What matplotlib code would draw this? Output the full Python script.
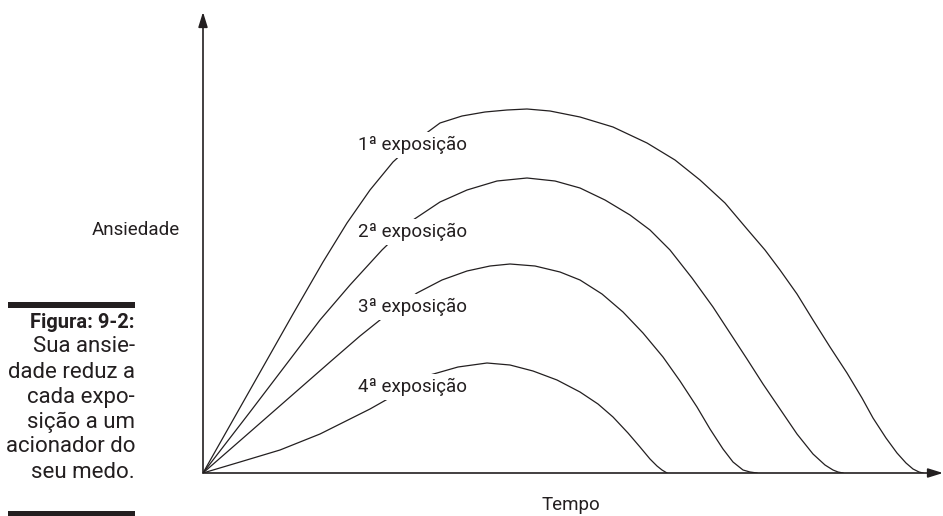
import matplotlib
matplotlib.use("Agg")
import matplotlib.pyplot as plt
from matplotlib.patches import Rectangle

plt.rcParams["font.family"] = ["Roboto", "DejaVu Sans"]

# curves: tempo (0..74) and ansiedade (0..46.1)
t1 = [0, 3.0, 6.0, 9.0, 12.0, 14.4, 16.7, 19.0, 21.4, 23.7, 25.9, 28.2, 30.4, 32.4, 34.7, 37.7, 41.0, 44.4,
      47.2, 49.7, 52.2, 54.4, 56.2, 57.7, 59.4, 61.0, 62.7, 64.4, 65.9, 67.0, 68.3, 69.4, 70.3, 71.0, 71.6, 72.0]
a1 = [0, 5.3, 10.6, 15.9, 21.1, 25.0, 28.3, 31.1, 33.3, 35.0, 35.7, 36.1, 36.3, 36.4, 36.2, 35.6, 34.6, 33.0,
      31.3, 29.3, 27.0, 24.4, 22.3, 20.3, 17.9, 15.3, 12.6, 10.0, 7.5, 5.5, 3.5, 2.0, 1.0, 0.4, 0.1, 0]

t2 = [0, 4.7, 8.2, 11.7, 14.7, 17.9, 21.0, 23.7, 26.4, 29.4, 32.4, 35.2, 37.7, 40.2, 42.7, 44.7, 46.7, 48.9,
      51.0, 52.7, 54.4, 56.0, 57.7, 59.4, 61.0, 62.2, 63.0, 63.5, 64.0]
a2 = [0, 6.1, 10.7, 15.3, 18.8, 22.3, 25.3, 27.1, 28.3, 29.2, 29.5, 29.2, 28.5, 27.3, 25.8, 24.3, 22.3, 19.5,
      16.6, 14.0, 11.4, 8.9, 6.4, 3.9, 1.9, 0.8, 0.3, 0.1, 0]

t3 = [0, 4.7, 8.7, 12.7, 15.7, 18.7, 21.4, 23.9, 26.4, 28.7, 30.7, 33.2, 35.7, 37.7, 39.9, 42.0, 44.0, 46.0,
      47.7, 49.4, 50.7, 52.0, 53.0, 54.0, 54.7, 55.4]
a3 = [0, 4.1, 7.6, 11.1, 13.7, 16.1, 18.0, 19.3, 20.2, 20.7, 20.9, 20.7, 20.1, 19.3, 17.9, 16.1, 14.0, 11.6,
      9.2, 6.6, 4.4, 2.4, 1.1, 0.3, 0.1, 0]

t4 = [0, 3.7, 7.7, 11.7, 14.7, 16.7, 19.7, 22.7, 25.5, 28.4, 30.7, 33.0, 35.4, 37.7, 39.5, 41.0, 42.5, 43.7,
      44.7, 45.4, 45.9, 46.4]
a4 = [0, 1.1, 2.3, 3.9, 5.4, 6.4, 8.1, 9.8, 10.6, 11.0, 10.8, 10.2, 9.3, 8.1, 6.9, 5.6, 4.0, 2.6,
      1.4, 0.7, 0.3, 0]

labels = ["1ª exposição", "2ª exposição", "3ª exposição", "4ª exposição"]
label_y = [32.8, 24.1, 16.6, 8.6]

caption = ["Sua ansie-", "dade reduz a", "cada expo-", "sição a um", "acionador do", "seu medo."]

W, H = 943, 516
INK = "#231f20"
fig = plt.figure(figsize=(W / 100, H / 100), dpi=100)
ax = fig.add_axes([203 / W, 43 / H, 740 / W, 461 / H])
ax.set_xlim(0, 74)
ax.set_ylim(0, 46.1)
ax.axis("off")

for t, a in [(t1, a1), (t2, a2), (t3, a3), (t4, a4)]:
    ax.plot(t, a, color=INK, lw=0.9, solid_joinstyle="round", zorder=2)

for lab, y in zip(labels, label_y):
    ax.text(15.5, y, lab, fontsize=13.5, color=INK, ha="left", va="center", zorder=3,
            bbox=dict(facecolor="white", edgecolor="none", pad=2.5))

# axes with arrow heads
for tip in [(0, 1), (1, 0)]:
    ax.annotate("", xy=tip, xytext=(0, 0), xycoords="axes fraction",
                arrowprops=dict(arrowstyle="-|>,head_length=0.9,head_width=0.28", color=INK, lw=1.2,
                                shrinkA=0, shrinkB=0), annotation_clip=False)

fig.text(180 / W, 1 - 230 / H, "Ansiedade", fontsize=13.5, color=INK, ha="right", va="center")
fig.text(571 / W, 1 - 505 / H, "Tempo", fontsize=13.5, color=INK, ha="center", va="center")

# caption block on the left
fig.add_artist(Rectangle((8 / W, 1 - 308 / H), 127 / W, 6 / H, transform=fig.transFigure,
                         color=INK, lw=0))
fig.add_artist(Rectangle((8 / W, 0), 127 / W, 5 / H, transform=fig.transFigure,
                         color=INK, lw=0))
fig.text(135 / W, 1 - 322 / H, "Figura: 9-2:", fontsize=14.5, fontweight="bold",
         color=INK, ha="right", va="center")
for i, line in enumerate(caption):
    fig.text(135 / W, 1 - (347 + 25 * i) / H, line, fontsize=16, color=INK,
             ha="right", va="center")

fig.savefig("out.png", dpi=100)
